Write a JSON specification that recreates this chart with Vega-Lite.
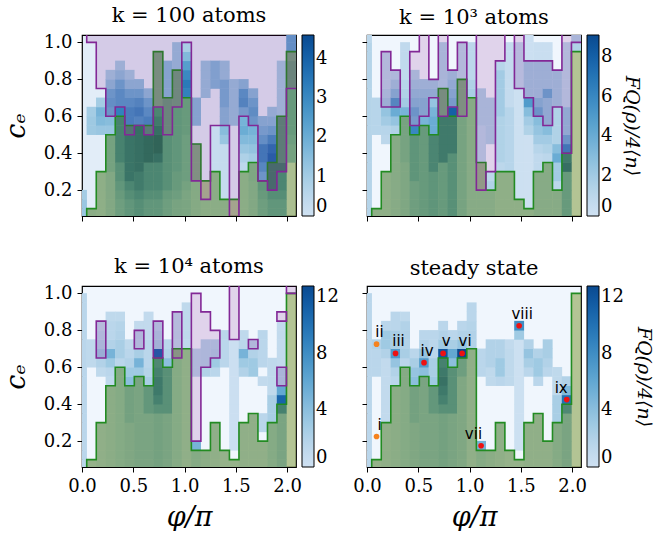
{
"$schema": "https://vega.github.io/schema/vega-lite/v6.json",
"autosize": {"type": "pad"},
"padding": {"left": 1, "top": 4, "right": 10, "bottom": 0},
"background": "white",
"config": {
 "view": {"stroke": "black", "strokeWidth": 1.2},
 "axis": {"grid": false, "domain": false, "tickColor": "black", "tickSize": 5, "tickWidth": 1, "labelFont": "DejaVu Serif", "labelFontSize": 18, "labelColor": "black", "labelPadding": 5, "labelFlush": false, "labelOverlap": false, "titleFont": "DejaVu Serif", "titleFontSize": 27, "titleFontWeight": "normal", "titleColor": "black", "titleFontStyle": "italic"},
 "axisY": {"titlePadding": 13},
 "axisX": {"titlePadding": 9},
 "legend": {"gradientLength": 181, "gradientThickness": 12, "gradientStrokeColor": "black", "gradientStrokeWidth": 1, "offset": 6, "padding": 0, "labelFont": "DejaVu Serif", "labelFontSize": 18, "labelColor": "black", "labelOffset": 7, "labelBaseline": "middle", "direction": "vertical", "titleFont": "DejaVu Serif", "titleFontSize": 19, "titleFontWeight": "normal", "titleColor": "black", "titleFontStyle": "italic", "titleOrient": "right", "titleAnchor": "middle", "titlePadding": 10},
 "title": {"font": "DejaVu Serif", "fontSize": 21, "fontWeight": "normal", "color": "black", "offset": 7}
},
"datasets": {
"hA": [
{"x":0,"y":0.075,"v":1.2},{"x":0,"y":0.125,"v":1.2},{"x":0,"y":0.175,"v":1.0},
{"x":0.093,"y":0.075,"v":0.9},{"x":0.093,"y":0.525,"v":1.1},{"x":0.093,"y":0.575,"v":1.1},{"x":0.093,"y":0.625,"v":1.0},
{"x":0.185,"y":0.075,"v":0.8},{"x":0.185,"y":0.125,"v":0.8},{"x":0.185,"y":0.175,"v":0.8},{"x":0.185,"y":0.225,"v":0.8},{"x":0.185,"y":0.275,"v":0.8},{"x":0.185,"y":0.525,"v":1.2},{"x":0.185,"y":0.575,"v":1.6},{"x":0.185,"y":0.625,"v":1.8},{"x":0.185,"y":0.675,"v":1.0},
{"x":0.278,"y":0.075,"v":1.2},{"x":0.278,"y":0.125,"v":1.2},{"x":0.278,"y":0.175,"v":1.2},{"x":0.278,"y":0.225,"v":1.2},{"x":0.278,"y":0.275,"v":1.2},{"x":0.278,"y":0.325,"v":1.6},{"x":0.278,"y":0.375,"v":1.6},{"x":0.278,"y":0.425,"v":1.6},{"x":0.278,"y":0.475,"v":1.6},{"x":0.278,"y":0.525,"v":1.2},{"x":0.278,"y":0.575,"v":1.5},{"x":0.278,"y":0.625,"v":2.0},{"x":0.278,"y":0.675,"v":2.2},{"x":0.278,"y":0.725,"v":2.0},{"x":0.278,"y":0.775,"v":1.4},{"x":0.278,"y":0.825,"v":1.0},
{"x":0.371,"y":0.075,"v":1.8},{"x":0.371,"y":0.125,"v":1.8},{"x":0.371,"y":0.175,"v":2.0},{"x":0.371,"y":0.225,"v":2.2},{"x":0.371,"y":0.275,"v":2.5},{"x":0.371,"y":0.325,"v":2.5},{"x":0.371,"y":0.375,"v":3.2},{"x":0.371,"y":0.425,"v":3.2},{"x":0.371,"y":0.475,"v":3.2},{"x":0.371,"y":0.525,"v":3.2},{"x":0.371,"y":0.575,"v":3.2},{"x":0.371,"y":0.625,"v":3.2},{"x":0.371,"y":0.675,"v":2.4},{"x":0.371,"y":0.725,"v":2.4},{"x":0.371,"y":0.775,"v":2.0},{"x":0.371,"y":0.825,"v":1.4},{"x":0.371,"y":0.875,"v":1.0},
{"x":0.464,"y":0.075,"v":2.2},{"x":0.464,"y":0.125,"v":2.2},{"x":0.464,"y":0.175,"v":2.6},{"x":0.464,"y":0.225,"v":3},{"x":0.464,"y":0.275,"v":3.8},{"x":0.464,"y":0.325,"v":3.8},{"x":0.464,"y":0.375,"v":3.8},{"x":0.464,"y":0.425,"v":3.8},{"x":0.464,"y":0.475,"v":3.8},{"x":0.464,"y":0.525,"v":3},{"x":0.464,"y":0.575,"v":2.8},{"x":0.464,"y":0.625,"v":2.8},{"x":0.464,"y":0.675,"v":2.4},{"x":0.464,"y":0.725,"v":2.0},{"x":0.464,"y":0.775,"v":1.4},{"x":0.464,"y":0.825,"v":1.0},
{"x":0.556,"y":0.075,"v":2.6},{"x":0.556,"y":0.125,"v":2.6},{"x":0.556,"y":0.175,"v":3.0},{"x":0.556,"y":0.225,"v":3.5},{"x":0.556,"y":0.275,"v":3.5},{"x":0.556,"y":0.325,"v":4},{"x":0.556,"y":0.375,"v":4},{"x":0.556,"y":0.425,"v":4},{"x":0.556,"y":0.475,"v":4},{"x":0.556,"y":0.525,"v":4},{"x":0.556,"y":0.575,"v":2.6},{"x":0.556,"y":0.625,"v":3.0},{"x":0.556,"y":0.675,"v":2.6},{"x":0.556,"y":0.725,"v":2.0},{"x":0.556,"y":0.775,"v":1.4},
{"x":0.649,"y":0.075,"v":2.2},{"x":0.649,"y":0.125,"v":2.2},{"x":0.649,"y":0.175,"v":2.6},{"x":0.649,"y":0.225,"v":3},{"x":0.649,"y":0.275,"v":3},{"x":0.649,"y":0.325,"v":3},{"x":0.649,"y":0.375,"v":4.3},{"x":0.649,"y":0.425,"v":4.3},{"x":0.649,"y":0.475,"v":4.3},{"x":0.649,"y":0.525,"v":2.6},{"x":0.649,"y":0.575,"v":2.8},{"x":0.649,"y":0.625,"v":2.4},{"x":0.649,"y":0.675,"v":2.0},{"x":0.649,"y":0.725,"v":1.4},
{"x":0.742,"y":0.075,"v":2.2},{"x":0.742,"y":0.125,"v":2.2},{"x":0.742,"y":0.175,"v":2.6},{"x":0.742,"y":0.225,"v":3},{"x":0.742,"y":0.275,"v":3},{"x":0.742,"y":0.325,"v":3},{"x":0.742,"y":0.375,"v":4},{"x":0.742,"y":0.425,"v":4.5},{"x":0.742,"y":0.475,"v":4.5},{"x":0.742,"y":0.525,"v":4},{"x":0.742,"y":0.575,"v":3.5},{"x":0.742,"y":0.625,"v":3},{"x":0.742,"y":0.675,"v":1.5},{"x":0.742,"y":0.725,"v":1.5},{"x":0.742,"y":0.775,"v":1.5},{"x":0.742,"y":0.825,"v":1.5},{"x":0.742,"y":0.875,"v":1.5},{"x":0.742,"y":0.925,"v":1.5},
{"x":0.834,"y":0.075,"v":1.8},{"x":0.834,"y":0.125,"v":1.8},{"x":0.834,"y":0.175,"v":2.0},{"x":0.834,"y":0.225,"v":2.5},{"x":0.834,"y":0.275,"v":2.5},{"x":0.834,"y":0.325,"v":2.5},{"x":0.834,"y":0.375,"v":2.5},{"x":0.834,"y":0.425,"v":2.5},{"x":0.834,"y":0.475,"v":2.5},{"x":0.834,"y":0.525,"v":2},{"x":0.834,"y":0.575,"v":2},{"x":0.834,"y":0.625,"v":2},{"x":0.834,"y":0.675,"v":2},{"x":0.834,"y":0.725,"v":1.5},{"x":0.834,"y":0.775,"v":1.5},{"x":0.834,"y":0.825,"v":1.5},{"x":0.834,"y":0.875,"v":1.5},
{"x":0.927,"y":0.075,"v":1.5},{"x":0.927,"y":0.125,"v":1.5},{"x":0.927,"y":0.175,"v":1.8},{"x":0.927,"y":0.225,"v":2.0},{"x":0.927,"y":0.275,"v":2.0},{"x":0.927,"y":0.325,"v":2.2},{"x":0.927,"y":0.375,"v":2.2},{"x":0.927,"y":0.425,"v":2.2},{"x":0.927,"y":0.475,"v":2.2},{"x":0.927,"y":0.525,"v":2.2},{"x":0.927,"y":0.575,"v":2.2},{"x":0.927,"y":0.625,"v":2.2},{"x":0.927,"y":0.675,"v":1.8},{"x":0.927,"y":0.725,"v":1.8},{"x":0.927,"y":0.775,"v":1.8},{"x":0.927,"y":0.825,"v":1.8},{"x":0.927,"y":0.875,"v":1.2},{"x":0.927,"y":0.925,"v":1.2},{"x":0.927,"y":0.975,"v":1.2},
{"x":1.02,"y":0.075,"v":1.4},{"x":1.02,"y":0.125,"v":1.4},{"x":1.02,"y":0.175,"v":1.4},{"x":1.02,"y":0.225,"v":1.6},{"x":1.02,"y":0.275,"v":1.8},{"x":1.02,"y":0.325,"v":1.8},{"x":1.02,"y":0.375,"v":1.8},{"x":1.02,"y":0.425,"v":1.8},{"x":1.02,"y":0.475,"v":1.8},{"x":1.02,"y":0.525,"v":2},{"x":1.02,"y":0.575,"v":2},{"x":1.02,"y":0.625,"v":2},{"x":1.02,"y":0.675,"v":2},{"x":1.02,"y":0.725,"v":3.2},{"x":1.02,"y":0.775,"v":3.4},{"x":1.02,"y":0.825,"v":3},{"x":1.02,"y":0.875,"v":2.4},{"x":1.02,"y":0.925,"v":1.6},{"x":1.02,"y":0.975,"v":0.9},
{"x":1.112,"y":0.075,"v":1.1},{"x":1.112,"y":0.125,"v":1.1},{"x":1.112,"y":0.175,"v":1.1},{"x":1.112,"y":0.225,"v":1.1},{"x":1.112,"y":0.275,"v":1.2},{"x":1.112,"y":0.325,"v":1.2},{"x":1.112,"y":0.375,"v":1.2},{"x":1.112,"y":0.425,"v":1.2},{"x":1.112,"y":0.575,"v":1.5},{"x":1.112,"y":0.625,"v":1.5},{"x":1.112,"y":0.675,"v":1.5},
{"x":1.205,"y":0.075,"v":0.9},{"x":1.205,"y":0.125,"v":0.9},{"x":1.205,"y":0.725,"v":1.2},{"x":1.205,"y":0.775,"v":1.2},{"x":1.205,"y":0.825,"v":1.2},{"x":1.205,"y":0.875,"v":1.2},
{"x":1.298,"y":0.075,"v":0.9},{"x":1.298,"y":0.125,"v":0.9},{"x":1.298,"y":0.175,"v":0.9},{"x":1.298,"y":0.225,"v":0.9},{"x":1.298,"y":0.275,"v":0.9},{"x":1.298,"y":0.325,"v":0.25},{"x":1.298,"y":0.375,"v":0.25},{"x":1.298,"y":0.425,"v":0.25},{"x":1.298,"y":0.475,"v":0.25},{"x":1.298,"y":0.525,"v":0.25},{"x":1.298,"y":0.775,"v":1.6},{"x":1.298,"y":0.825,"v":1.6},{"x":1.298,"y":0.875,"v":1.6},
{"x":1.391,"y":0.075,"v":0.9},{"x":1.391,"y":0.125,"v":0.9},{"x":1.391,"y":0.175,"v":0.3},{"x":1.391,"y":0.225,"v":0.3},{"x":1.391,"y":0.275,"v":0.3},{"x":1.391,"y":0.325,"v":0.3},{"x":1.391,"y":0.375,"v":0.3},{"x":1.391,"y":0.425,"v":0.3},{"x":1.391,"y":0.475,"v":1.2},{"x":1.391,"y":0.525,"v":1.5},{"x":1.391,"y":0.575,"v":1.5},{"x":1.391,"y":0.625,"v":1.5},{"x":1.391,"y":0.675,"v":1.8},{"x":1.391,"y":0.725,"v":1.8},{"x":1.391,"y":0.775,"v":1.8},{"x":1.391,"y":0.825,"v":1.2},{"x":1.391,"y":0.875,"v":1.2},
{"x":1.483,"y":0.575,"v":1.2},{"x":1.483,"y":0.625,"v":1.2},{"x":1.483,"y":0.675,"v":1.2},{"x":1.483,"y":0.725,"v":1.2},{"x":1.483,"y":0.775,"v":1.2},
{"x":1.576,"y":0.075,"v":0.9},{"x":1.576,"y":0.125,"v":0.9},{"x":1.576,"y":0.175,"v":0.9},{"x":1.576,"y":0.225,"v":0.9},{"x":1.576,"y":0.275,"v":0.9},{"x":1.576,"y":0.325,"v":0.5},{"x":1.576,"y":0.375,"v":0.8},{"x":1.576,"y":0.425,"v":1.2},{"x":1.576,"y":0.475,"v":1.6},{"x":1.576,"y":0.525,"v":2},{"x":1.576,"y":0.575,"v":1.8},{"x":1.576,"y":0.625,"v":1.8},{"x":1.576,"y":0.675,"v":2.6},{"x":1.576,"y":0.725,"v":2.4},{"x":1.576,"y":0.775,"v":1.5},
{"x":1.669,"y":0.075,"v":1.2},{"x":1.669,"y":0.125,"v":1.2},{"x":1.669,"y":0.175,"v":1.2},{"x":1.669,"y":0.225,"v":1.2},{"x":1.669,"y":0.275,"v":1.3},{"x":1.669,"y":0.325,"v":1.3},{"x":1.669,"y":0.375,"v":1},{"x":1.669,"y":0.425,"v":1.3},{"x":1.669,"y":0.475,"v":1.6},{"x":1.669,"y":0.525,"v":1.8},{"x":1.669,"y":0.575,"v":2},{"x":1.669,"y":0.625,"v":2.3},{"x":1.669,"y":0.675,"v":2},{"x":1.669,"y":0.725,"v":1.5},
{"x":1.761,"y":0.075,"v":1.8},{"x":1.761,"y":0.125,"v":1.8},{"x":1.761,"y":0.175,"v":2.0},{"x":1.761,"y":0.225,"v":2.2},{"x":1.761,"y":0.275,"v":2},{"x":1.761,"y":0.325,"v":2.5},{"x":1.761,"y":0.375,"v":3},{"x":1.761,"y":0.425,"v":3},{"x":1.761,"y":0.475,"v":2.2},{"x":1.761,"y":0.525,"v":1.8},{"x":1.761,"y":0.575,"v":1.5},
{"x":1.854,"y":0.075,"v":2.2},{"x":1.854,"y":0.125,"v":2.2},{"x":1.854,"y":0.175,"v":2.6},{"x":1.854,"y":0.225,"v":3.5},{"x":1.854,"y":0.275,"v":3.5},{"x":1.854,"y":0.325,"v":3.5},{"x":1.854,"y":0.375,"v":3.8},{"x":1.854,"y":0.425,"v":3.5},{"x":1.854,"y":0.475,"v":2.8},{"x":1.854,"y":0.525,"v":2},{"x":1.854,"y":0.575,"v":1.5},{"x":1.854,"y":0.625,"v":1.2},
{"x":1.947,"y":0.075,"v":2.2},{"x":1.947,"y":0.125,"v":2.2},{"x":1.947,"y":0.175,"v":2.6},{"x":1.947,"y":0.225,"v":3},{"x":1.947,"y":0.275,"v":3},{"x":1.947,"y":0.325,"v":3.5},{"x":1.947,"y":0.375,"v":2.5},{"x":1.947,"y":0.425,"v":2.5},{"x":1.947,"y":0.475,"v":2.5},{"x":1.947,"y":0.525,"v":2.5},{"x":1.947,"y":0.575,"v":2.5},{"x":1.947,"y":0.625,"v":1},{"x":1.947,"y":0.675,"v":1},{"x":1.947,"y":0.725,"v":1},{"x":1.947,"y":0.775,"v":1},{"x":1.947,"y":0.825,"v":1},{"x":1.947,"y":0.875,"v":1},
{"x":2.039,"y":0.375,"v":1.6},{"x":2.039,"y":0.425,"v":1.6},{"x":2.039,"y":0.475,"v":1.8},{"x":2.039,"y":0.525,"v":2},{"x":2.039,"y":0.575,"v":2},{"x":2.039,"y":0.625,"v":2},{"x":2.039,"y":0.675,"v":2},{"x":2.039,"y":0.725,"v":2},{"x":2.039,"y":0.775,"v":2},{"x":2.039,"y":0.825,"v":2},{"x":2.039,"y":0.875,"v":2},{"x":2.039,"y":0.925,"v":1.6},{"x":2.039,"y":0.975,"v":2.2},{"x":2.039,"y":1.025,"v":2.2}
],
"hB": [
{"x":0,"y":0.075,"v":1.3},{"x":0,"y":0.125,"v":1.3},{"x":0,"y":0.175,"v":1.3},{"x":0,"y":0.225,"v":1.3},{"x":0,"y":0.275,"v":1.3},{"x":0,"y":0.325,"v":1.3},{"x":0,"y":0.375,"v":1.3},{"x":0,"y":0.425,"v":1.3},{"x":0,"y":0.475,"v":1.3},{"x":0,"y":0.525,"v":1.3},{"x":0,"y":0.575,"v":1.3},{"x":0,"y":0.625,"v":1.3},{"x":0,"y":0.675,"v":1.3},{"x":0,"y":0.725,"v":1.3},{"x":0,"y":0.775,"v":1.3},{"x":0,"y":0.825,"v":1.3},{"x":0,"y":0.875,"v":1.3},{"x":0,"y":0.925,"v":1.3},{"x":0,"y":0.975,"v":1.3},{"x":0,"y":1.025,"v":1.0},
{"x":0.093,"y":0.075,"v":1.5},{"x":0.093,"y":0.525,"v":1.2},{"x":0.093,"y":0.575,"v":1.2},{"x":0.093,"y":0.625,"v":1.2},{"x":0.093,"y":0.675,"v":1.2},
{"x":0.185,"y":0.075,"v":1.5},{"x":0.185,"y":0.125,"v":1.5},{"x":0.185,"y":0.175,"v":1.5},{"x":0.185,"y":0.225,"v":1.5},{"x":0.185,"y":0.275,"v":1.5},{"x":0.185,"y":0.475,"v":1},{"x":0.185,"y":0.525,"v":1.2},{"x":0.185,"y":0.575,"v":2},{"x":0.185,"y":0.625,"v":2.5},{"x":0.185,"y":0.675,"v":2},{"x":0.185,"y":0.725,"v":1.5},{"x":0.185,"y":0.775,"v":1},{"x":0.185,"y":0.825,"v":1},{"x":0.185,"y":0.875,"v":1},{"x":0.185,"y":0.925,"v":1},
{"x":0.278,"y":0.075,"v":2},{"x":0.278,"y":0.125,"v":2},{"x":0.278,"y":0.175,"v":2},{"x":0.278,"y":0.225,"v":2},{"x":0.278,"y":0.275,"v":2},{"x":0.278,"y":0.325,"v":2},{"x":0.278,"y":0.375,"v":2},{"x":0.278,"y":0.425,"v":2},{"x":0.278,"y":0.475,"v":2},{"x":0.278,"y":0.525,"v":1.5},{"x":0.278,"y":0.575,"v":2.5},{"x":0.278,"y":0.625,"v":4},{"x":0.278,"y":0.675,"v":5},{"x":0.278,"y":0.725,"v":3},{"x":0.278,"y":0.775,"v":2},{"x":0.278,"y":0.825,"v":1.2},
{"x":0.371,"y":0.075,"v":2.5},{"x":0.371,"y":0.125,"v":2.5},{"x":0.371,"y":0.175,"v":2.5},{"x":0.371,"y":0.225,"v":2.5},{"x":0.371,"y":0.275,"v":2.5},{"x":0.371,"y":0.325,"v":2.5},{"x":0.371,"y":0.375,"v":3},{"x":0.371,"y":0.425,"v":3},{"x":0.371,"y":0.475,"v":3},{"x":0.371,"y":0.525,"v":3},{"x":0.371,"y":0.575,"v":3},{"x":0.371,"y":0.625,"v":3.5},{"x":0.371,"y":0.675,"v":2},{"x":0.371,"y":0.725,"v":1.5},{"x":0.371,"y":0.775,"v":1.2},{"x":0.371,"y":0.825,"v":0.8},{"x":0.371,"y":0.875,"v":0.8},{"x":0.371,"y":0.925,"v":0.8},{"x":0.371,"y":0.975,"v":0.8},
{"x":0.464,"y":0.075,"v":3.5},{"x":0.464,"y":0.125,"v":3.5},{"x":0.464,"y":0.175,"v":3.5},{"x":0.464,"y":0.225,"v":3.5},{"x":0.464,"y":0.275,"v":4.5},{"x":0.464,"y":0.325,"v":4.5},{"x":0.464,"y":0.375,"v":4.5},{"x":0.464,"y":0.425,"v":4.5},{"x":0.464,"y":0.475,"v":4.5},{"x":0.464,"y":0.525,"v":6},{"x":0.464,"y":0.575,"v":3.5},{"x":0.464,"y":0.625,"v":4},{"x":0.464,"y":0.675,"v":3},{"x":0.464,"y":0.725,"v":2.5},{"x":0.464,"y":0.775,"v":2},{"x":0.464,"y":0.825,"v":1.5},
{"x":0.556,"y":0.075,"v":4},{"x":0.556,"y":0.125,"v":4},{"x":0.556,"y":0.175,"v":4},{"x":0.556,"y":0.225,"v":4},{"x":0.556,"y":0.275,"v":4},{"x":0.556,"y":0.325,"v":4},{"x":0.556,"y":0.375,"v":4},{"x":0.556,"y":0.425,"v":4},{"x":0.556,"y":0.475,"v":4},{"x":0.556,"y":0.525,"v":4},{"x":0.556,"y":0.575,"v":3.5},{"x":0.556,"y":0.625,"v":3},{"x":0.556,"y":0.675,"v":3},{"x":0.556,"y":0.725,"v":2.5},{"x":0.556,"y":0.775,"v":2},
{"x":0.649,"y":0.075,"v":4.5},{"x":0.649,"y":0.125,"v":4.5},{"x":0.649,"y":0.175,"v":4.5},{"x":0.649,"y":0.225,"v":4.5},{"x":0.649,"y":0.275,"v":4.5},{"x":0.649,"y":0.325,"v":6},{"x":0.649,"y":0.375,"v":6},{"x":0.649,"y":0.425,"v":6},{"x":0.649,"y":0.475,"v":6},{"x":0.649,"y":0.525,"v":4},{"x":0.649,"y":0.575,"v":4},{"x":0.649,"y":0.625,"v":3.5},{"x":0.649,"y":0.675,"v":2.5},{"x":0.649,"y":0.725,"v":2.5},{"x":0.649,"y":0.775,"v":2},
{"x":0.742,"y":0.075,"v":4},{"x":0.742,"y":0.125,"v":4},{"x":0.742,"y":0.175,"v":4},{"x":0.742,"y":0.225,"v":4},{"x":0.742,"y":0.275,"v":4},{"x":0.742,"y":0.325,"v":4},{"x":0.742,"y":0.375,"v":7},{"x":0.742,"y":0.425,"v":7},{"x":0.742,"y":0.475,"v":7},{"x":0.742,"y":0.525,"v":7},{"x":0.742,"y":0.575,"v":7},{"x":0.742,"y":0.625,"v":3},{"x":0.742,"y":0.675,"v":3},{"x":0.742,"y":0.725,"v":3},{"x":0.742,"y":0.775,"v":1.5},{"x":0.742,"y":0.825,"v":1.5},{"x":0.742,"y":0.875,"v":1.5},{"x":0.742,"y":0.925,"v":1.5},{"x":0.742,"y":0.975,"v":1.5},
{"x":0.834,"y":0.075,"v":5},{"x":0.834,"y":0.125,"v":5},{"x":0.834,"y":0.175,"v":5},{"x":0.834,"y":0.225,"v":5},{"x":0.834,"y":0.275,"v":5},{"x":0.834,"y":0.325,"v":5},{"x":0.834,"y":0.375,"v":5},{"x":0.834,"y":0.425,"v":7},{"x":0.834,"y":0.475,"v":7},{"x":0.834,"y":0.525,"v":7},{"x":0.834,"y":0.575,"v":7},{"x":0.834,"y":0.625,"v":8},{"x":0.834,"y":0.675,"v":3.5},{"x":0.834,"y":0.725,"v":3},{"x":0.834,"y":0.775,"v":2.5},{"x":0.834,"y":0.825,"v":2},
{"x":0.927,"y":0.075,"v":3},{"x":0.927,"y":0.125,"v":3},{"x":0.927,"y":0.175,"v":3},{"x":0.927,"y":0.225,"v":3},{"x":0.927,"y":0.275,"v":3},{"x":0.927,"y":0.325,"v":3},{"x":0.927,"y":0.375,"v":3},{"x":0.927,"y":0.425,"v":3},{"x":0.927,"y":0.475,"v":3},{"x":0.927,"y":0.525,"v":3},{"x":0.927,"y":0.575,"v":3},{"x":0.927,"y":0.625,"v":2.5},{"x":0.927,"y":0.675,"v":2.5},{"x":0.927,"y":0.725,"v":2.5},{"x":0.927,"y":0.775,"v":2.5},{"x":0.927,"y":0.825,"v":1},{"x":0.927,"y":0.875,"v":1},{"x":0.927,"y":0.925,"v":1},{"x":0.927,"y":0.975,"v":1},
{"x":1.02,"y":0.075,"v":2},{"x":1.02,"y":0.125,"v":2},{"x":1.02,"y":0.175,"v":2},{"x":1.02,"y":0.225,"v":2},{"x":1.02,"y":0.275,"v":2},{"x":1.02,"y":0.325,"v":2},{"x":1.02,"y":0.375,"v":2},{"x":1.02,"y":0.425,"v":2},{"x":1.02,"y":0.475,"v":2},{"x":1.02,"y":0.525,"v":2},{"x":1.02,"y":0.575,"v":2},{"x":1.02,"y":0.625,"v":2},{"x":1.02,"y":0.675,"v":2},{"x":1.02,"y":0.725,"v":1.8},{"x":1.02,"y":0.775,"v":1.5},{"x":1.02,"y":0.825,"v":1},{"x":1.02,"y":0.875,"v":1},{"x":1.02,"y":0.925,"v":1},{"x":1.02,"y":0.975,"v":1},
{"x":1.112,"y":0.075,"v":2},{"x":1.112,"y":0.125,"v":2},{"x":1.112,"y":0.175,"v":2},{"x":1.112,"y":0.225,"v":1},{"x":1.112,"y":0.275,"v":1},{"x":1.112,"y":0.325,"v":1},{"x":1.112,"y":0.375,"v":1},{"x":1.112,"y":0.425,"v":1},{"x":1.112,"y":0.475,"v":1},{"x":1.112,"y":0.525,"v":1},{"x":1.112,"y":0.575,"v":1.5},{"x":1.112,"y":0.625,"v":1.5},{"x":1.112,"y":0.675,"v":1.5},{"x":1.112,"y":0.725,"v":1.5},
{"x":1.205,"y":0.075,"v":2},{"x":1.205,"y":0.125,"v":2},{"x":1.205,"y":0.175,"v":2},{"x":1.205,"y":0.225,"v":1.5},{"x":1.205,"y":0.275,"v":1},{"x":1.205,"y":0.475,"v":1.5},{"x":1.205,"y":0.525,"v":1.5},{"x":1.205,"y":0.575,"v":1.5},{"x":1.205,"y":0.625,"v":1.5},{"x":1.205,"y":0.675,"v":1.5},
{"x":1.298,"y":0.075,"v":1.5},{"x":1.298,"y":0.125,"v":1.5},{"x":1.298,"y":0.175,"v":1.5},{"x":1.298,"y":0.225,"v":1.5},{"x":1.298,"y":0.275,"v":1.5},{"x":1.298,"y":0.325,"v":1},{"x":1.298,"y":0.375,"v":1.5},{"x":1.298,"y":0.425,"v":1.5},{"x":1.298,"y":0.475,"v":1.5},{"x":1.298,"y":0.525,"v":1.5},{"x":1.298,"y":0.575,"v":1.5},{"x":1.298,"y":0.625,"v":2},{"x":1.298,"y":0.675,"v":2},{"x":1.298,"y":0.725,"v":2},{"x":1.298,"y":0.775,"v":2},{"x":1.298,"y":0.825,"v":2},{"x":1.298,"y":0.875,"v":1.2},
{"x":1.391,"y":0.075,"v":1.5},{"x":1.391,"y":0.125,"v":1.5},{"x":1.391,"y":0.175,"v":1.5},{"x":1.391,"y":0.225,"v":1.5},{"x":1.391,"y":0.275,"v":1.5},{"x":1.391,"y":0.325,"v":1.2},{"x":1.391,"y":0.375,"v":1.2},{"x":1.391,"y":0.425,"v":1.2},{"x":1.391,"y":0.475,"v":1.2},{"x":1.391,"y":0.525,"v":1.2},{"x":1.391,"y":0.575,"v":1.2},{"x":1.391,"y":0.625,"v":1.2},{"x":1.391,"y":0.675,"v":0.6},{"x":1.391,"y":0.725,"v":0.6},{"x":1.391,"y":0.775,"v":0.6},{"x":1.391,"y":0.825,"v":0.6},{"x":1.391,"y":0.875,"v":0.6},{"x":1.391,"y":0.925,"v":0.6},{"x":1.391,"y":0.975,"v":0.6},
{"x":1.483,"y":0.075,"v":1.5},{"x":1.483,"y":0.125,"v":1.5},{"x":1.483,"y":0.175,"v":0.15},{"x":1.483,"y":0.225,"v":0.15},{"x":1.483,"y":0.275,"v":0.15},{"x":1.483,"y":0.325,"v":0.15},{"x":1.483,"y":0.375,"v":0.15},{"x":1.483,"y":0.425,"v":0.15},{"x":1.483,"y":0.475,"v":0.15},{"x":1.483,"y":0.525,"v":0.15},{"x":1.483,"y":0.575,"v":0.15},{"x":1.483,"y":0.625,"v":0.15},{"x":1.483,"y":0.675,"v":0.15},{"x":1.483,"y":0.725,"v":0.15},{"x":1.483,"y":0.775,"v":0.8},{"x":1.483,"y":0.825,"v":0.8},{"x":1.483,"y":0.875,"v":0.8},{"x":1.483,"y":0.925,"v":0.8},{"x":1.483,"y":0.975,"v":0.8},
{"x":1.576,"y":0.075,"v":1.5},{"x":1.576,"y":0.125,"v":0.1},{"x":1.576,"y":0.175,"v":0.1},{"x":1.576,"y":0.225,"v":0.1},{"x":1.576,"y":0.275,"v":0.1},{"x":1.576,"y":0.325,"v":0.1},{"x":1.576,"y":0.375,"v":0.1},{"x":1.576,"y":0.425,"v":0.1},{"x":1.576,"y":0.475,"v":0.1},{"x":1.576,"y":0.525,"v":1.5},{"x":1.576,"y":0.575,"v":2},{"x":1.576,"y":0.625,"v":3},{"x":1.576,"y":0.675,"v":5},{"x":1.576,"y":0.725,"v":2},{"x":1.576,"y":0.775,"v":2},{"x":1.576,"y":0.825,"v":2},{"x":1.576,"y":0.875,"v":2},{"x":1.576,"y":0.925,"v":0.2},{"x":1.576,"y":0.975,"v":0.2},{"x":1.576,"y":1.025,"v":0.2},
{"x":1.669,"y":0.075,"v":2},{"x":1.669,"y":0.125,"v":2},{"x":1.669,"y":0.175,"v":2},{"x":1.669,"y":0.225,"v":2},{"x":1.669,"y":0.275,"v":2},{"x":1.669,"y":0.325,"v":0.8},{"x":1.669,"y":0.375,"v":0.8},{"x":1.669,"y":0.425,"v":1.2},{"x":1.669,"y":0.475,"v":2},{"x":1.669,"y":0.525,"v":2.5},{"x":1.669,"y":0.575,"v":3},{"x":1.669,"y":0.625,"v":4},{"x":1.669,"y":0.675,"v":3},{"x":1.669,"y":0.725,"v":2},{"x":1.669,"y":0.775,"v":2},{"x":1.669,"y":0.825,"v":2},{"x":1.669,"y":0.875,"v":2},{"x":1.669,"y":0.925,"v":0.3},{"x":1.669,"y":0.975,"v":0.3},
{"x":1.761,"y":0.075,"v":2},{"x":1.761,"y":0.125,"v":2},{"x":1.761,"y":0.175,"v":2},{"x":1.761,"y":0.225,"v":2},{"x":1.761,"y":0.275,"v":2},{"x":1.761,"y":0.325,"v":2},{"x":1.761,"y":0.375,"v":1},{"x":1.761,"y":0.425,"v":1.5},{"x":1.761,"y":0.475,"v":2},{"x":1.761,"y":0.525,"v":3},{"x":1.761,"y":0.575,"v":2.5},{"x":1.761,"y":0.625,"v":2.5},{"x":1.761,"y":0.675,"v":2.5},{"x":1.761,"y":0.725,"v":4},{"x":1.761,"y":0.775,"v":2},{"x":1.761,"y":0.825,"v":2},{"x":1.761,"y":0.875,"v":2},{"x":1.761,"y":0.925,"v":0.3},{"x":1.761,"y":0.975,"v":0.3},
{"x":1.854,"y":0.075,"v":2},{"x":1.854,"y":0.125,"v":2},{"x":1.854,"y":0.175,"v":2},{"x":1.854,"y":0.225,"v":1},{"x":1.854,"y":0.275,"v":2},{"x":1.854,"y":0.325,"v":2},{"x":1.854,"y":0.375,"v":4},{"x":1.854,"y":0.425,"v":3},{"x":1.854,"y":0.475,"v":1.5},{"x":1.854,"y":0.525,"v":1.5},{"x":1.854,"y":0.575,"v":1.5},{"x":1.854,"y":0.625,"v":1.5},{"x":1.854,"y":0.675,"v":2},{"x":1.854,"y":0.725,"v":2},{"x":1.854,"y":0.775,"v":2},{"x":1.854,"y":0.825,"v":2},
{"x":1.947,"y":0.075,"v":4},{"x":1.947,"y":0.125,"v":4},{"x":1.947,"y":0.175,"v":4},{"x":1.947,"y":0.225,"v":4},{"x":1.947,"y":0.275,"v":4},{"x":1.947,"y":0.325,"v":8},{"x":1.947,"y":0.375,"v":7},{"x":1.947,"y":0.425,"v":6},{"x":1.947,"y":0.475,"v":4},{"x":1.947,"y":0.525,"v":2.5},{"x":1.947,"y":0.575,"v":2.5},{"x":1.947,"y":0.625,"v":2.5},{"x":1.947,"y":0.675,"v":1},{"x":1.947,"y":0.725,"v":1},{"x":1.947,"y":0.775,"v":1},{"x":1.947,"y":0.825,"v":1},{"x":1.947,"y":0.875,"v":1},{"x":1.947,"y":0.925,"v":1},{"x":1.947,"y":0.975,"v":1},
{"x":2.039,"y":0.975,"v":1.5},{"x":2.039,"y":1.025,"v":1.5}
],
"hC": [
{"x":0,"y":0.075,"v":1.5},{"x":0,"y":0.125,"v":1.5},{"x":0,"y":0.175,"v":1.5},{"x":0,"y":0.225,"v":1.5},{"x":0,"y":0.275,"v":1.5},{"x":0,"y":0.325,"v":1.5},{"x":0,"y":0.375,"v":1.5},{"x":0,"y":0.425,"v":1.5},{"x":0,"y":0.475,"v":1.5},{"x":0,"y":0.525,"v":1.5},{"x":0,"y":0.575,"v":1.5},{"x":0,"y":0.625,"v":1.5},{"x":0,"y":0.675,"v":1.5},{"x":0,"y":0.725,"v":1.5},{"x":0,"y":0.775,"v":1.5},{"x":0,"y":0.825,"v":1.5},{"x":0,"y":0.875,"v":1.5},{"x":0,"y":0.925,"v":1.5},{"x":0,"y":0.975,"v":1.5},
{"x":0.093,"y":0.075,"v":1.5},{"x":0.093,"y":0.625,"v":1.2},{"x":0.093,"y":0.675,"v":1.2},{"x":0.093,"y":0.725,"v":1.2},
{"x":0.185,"y":0.075,"v":2},{"x":0.185,"y":0.125,"v":2},{"x":0.185,"y":0.175,"v":2},{"x":0.185,"y":0.225,"v":2},{"x":0.185,"y":0.275,"v":2},{"x":0.185,"y":0.575,"v":1.2},{"x":0.185,"y":0.625,"v":2},{"x":0.185,"y":0.675,"v":3},{"x":0.185,"y":0.725,"v":2},{"x":0.185,"y":0.775,"v":1.5},{"x":0.185,"y":0.825,"v":1.2},
{"x":0.278,"y":0.075,"v":2.5},{"x":0.278,"y":0.125,"v":2.5},{"x":0.278,"y":0.175,"v":2.5},{"x":0.278,"y":0.225,"v":2.5},{"x":0.278,"y":0.275,"v":2.5},{"x":0.278,"y":0.325,"v":2.5},{"x":0.278,"y":0.375,"v":2.5},{"x":0.278,"y":0.425,"v":2.5},{"x":0.278,"y":0.475,"v":2.5},{"x":0.278,"y":0.525,"v":1.2},{"x":0.278,"y":0.575,"v":1.5},{"x":0.278,"y":0.625,"v":3},{"x":0.278,"y":0.675,"v":5},{"x":0.278,"y":0.725,"v":2},{"x":0.278,"y":0.775,"v":1.5},{"x":0.278,"y":0.825,"v":1.5},{"x":0.278,"y":0.875,"v":1.2},
{"x":0.371,"y":0.075,"v":3},{"x":0.371,"y":0.125,"v":3},{"x":0.371,"y":0.175,"v":3},{"x":0.371,"y":0.225,"v":3},{"x":0.371,"y":0.275,"v":3},{"x":0.371,"y":0.325,"v":3},{"x":0.371,"y":0.375,"v":3},{"x":0.371,"y":0.425,"v":3},{"x":0.371,"y":0.475,"v":3},{"x":0.371,"y":0.525,"v":3},{"x":0.371,"y":0.575,"v":3},{"x":0.371,"y":0.625,"v":1.5},{"x":0.371,"y":0.675,"v":2.5},{"x":0.371,"y":0.725,"v":2.5},{"x":0.371,"y":0.775,"v":2},{"x":0.371,"y":0.825,"v":1.8},{"x":0.371,"y":0.875,"v":1.2},
{"x":0.464,"y":0.075,"v":3.5},{"x":0.464,"y":0.125,"v":3.5},{"x":0.464,"y":0.175,"v":3.5},{"x":0.464,"y":0.225,"v":3.5},{"x":0.464,"y":0.275,"v":3.5},{"x":0.464,"y":0.325,"v":4.5},{"x":0.464,"y":0.375,"v":4.5},{"x":0.464,"y":0.425,"v":4.5},{"x":0.464,"y":0.475,"v":4.5},{"x":0.464,"y":0.525,"v":4},{"x":0.464,"y":0.575,"v":3},{"x":0.464,"y":0.625,"v":2},{"x":0.464,"y":0.675,"v":1.5},{"x":0.464,"y":0.725,"v":1.2},
{"x":0.556,"y":0.075,"v":4},{"x":0.556,"y":0.125,"v":4},{"x":0.556,"y":0.175,"v":4},{"x":0.556,"y":0.225,"v":4},{"x":0.556,"y":0.275,"v":4},{"x":0.556,"y":0.325,"v":4},{"x":0.556,"y":0.375,"v":4},{"x":0.556,"y":0.425,"v":4},{"x":0.556,"y":0.475,"v":4},{"x":0.556,"y":0.525,"v":4},{"x":0.556,"y":0.575,"v":3},{"x":0.556,"y":0.625,"v":5},{"x":0.556,"y":0.675,"v":2.5},{"x":0.556,"y":0.725,"v":1.5},{"x":0.556,"y":0.775,"v":1.5},{"x":0.556,"y":0.825,"v":1},
{"x":0.649,"y":0.075,"v":4},{"x":0.649,"y":0.125,"v":4},{"x":0.649,"y":0.175,"v":4},{"x":0.649,"y":0.225,"v":4},{"x":0.649,"y":0.275,"v":4},{"x":0.649,"y":0.325,"v":4},{"x":0.649,"y":0.375,"v":6},{"x":0.649,"y":0.425,"v":6},{"x":0.649,"y":0.475,"v":6},{"x":0.649,"y":0.525,"v":2.5},{"x":0.649,"y":0.575,"v":1.8},{"x":0.649,"y":0.625,"v":1.5},{"x":0.649,"y":0.675,"v":1.5},{"x":0.649,"y":0.725,"v":1.5},{"x":0.649,"y":0.775,"v":1},{"x":0.649,"y":0.825,"v":1},{"x":0.649,"y":0.875,"v":1},
{"x":0.742,"y":0.075,"v":4.5},{"x":0.742,"y":0.125,"v":4.5},{"x":0.742,"y":0.175,"v":4.5},{"x":0.742,"y":0.225,"v":4.5},{"x":0.742,"y":0.275,"v":4.5},{"x":0.742,"y":0.325,"v":4.5},{"x":0.742,"y":0.375,"v":7},{"x":0.742,"y":0.425,"v":9},{"x":0.742,"y":0.475,"v":10},{"x":0.742,"y":0.525,"v":10},{"x":0.742,"y":0.575,"v":9},{"x":0.742,"y":0.625,"v":8},{"x":0.742,"y":0.675,"v":11},{"x":0.742,"y":0.725,"v":2.5},{"x":0.742,"y":0.775,"v":2},{"x":0.742,"y":0.825,"v":1.5},
{"x":0.834,"y":0.075,"v":4},{"x":0.834,"y":0.125,"v":4},{"x":0.834,"y":0.175,"v":4},{"x":0.834,"y":0.225,"v":4},{"x":0.834,"y":0.275,"v":4},{"x":0.834,"y":0.325,"v":4},{"x":0.834,"y":0.375,"v":7},{"x":0.834,"y":0.425,"v":7},{"x":0.834,"y":0.475,"v":7},{"x":0.834,"y":0.525,"v":7},{"x":0.834,"y":0.575,"v":7},{"x":0.834,"y":0.625,"v":4},{"x":0.834,"y":0.675,"v":2},{"x":0.834,"y":0.725,"v":1.5},
{"x":0.927,"y":0.075,"v":3},{"x":0.927,"y":0.125,"v":3},{"x":0.927,"y":0.175,"v":3},{"x":0.927,"y":0.225,"v":3},{"x":0.927,"y":0.275,"v":3},{"x":0.927,"y":0.325,"v":3},{"x":0.927,"y":0.375,"v":3},{"x":0.927,"y":0.425,"v":3},{"x":0.927,"y":0.475,"v":3},{"x":0.927,"y":0.525,"v":3},{"x":0.927,"y":0.575,"v":3},{"x":0.927,"y":0.625,"v":3},{"x":0.927,"y":0.675,"v":2.5},{"x":0.927,"y":0.725,"v":1.2},{"x":0.927,"y":0.775,"v":1.2},{"x":0.927,"y":0.825,"v":1.2},{"x":0.927,"y":0.875,"v":1.2},
{"x":1.02,"y":0.075,"v":2},{"x":1.02,"y":0.125,"v":2},{"x":1.02,"y":0.175,"v":2},{"x":1.02,"y":0.225,"v":2},{"x":1.02,"y":0.275,"v":2},{"x":1.02,"y":0.325,"v":2},{"x":1.02,"y":0.375,"v":2},{"x":1.02,"y":0.425,"v":2},{"x":1.02,"y":0.475,"v":2},{"x":1.02,"y":0.525,"v":2},{"x":1.02,"y":0.575,"v":2},{"x":1.02,"y":0.625,"v":2},{"x":1.02,"y":0.675,"v":2},{"x":1.02,"y":0.725,"v":1.2},{"x":1.02,"y":0.775,"v":1.2},{"x":1.02,"y":0.825,"v":1.2},{"x":1.02,"y":0.875,"v":1.2},{"x":1.02,"y":0.925,"v":1.2},
{"x":1.112,"y":0.075,"v":3},{"x":1.112,"y":0.125,"v":3},{"x":1.112,"y":0.175,"v":5},{"x":1.112,"y":0.575,"v":1.5},{"x":1.112,"y":0.625,"v":1.5},{"x":1.112,"y":0.675,"v":1.5},
{"x":1.205,"y":0.075,"v":2.5},{"x":1.205,"y":0.125,"v":2.5},{"x":1.205,"y":0.575,"v":2},{"x":1.205,"y":0.625,"v":1.8},{"x":1.205,"y":0.675,"v":1.8},{"x":1.205,"y":0.725,"v":1.8},
{"x":1.298,"y":0.075,"v":2},{"x":1.298,"y":0.125,"v":2},{"x":1.298,"y":0.175,"v":2},{"x":1.298,"y":0.225,"v":2},{"x":1.298,"y":0.275,"v":2},{"x":1.298,"y":0.575,"v":1.5},{"x":1.298,"y":0.625,"v":3},{"x":1.298,"y":0.675,"v":2},{"x":1.298,"y":0.725,"v":1.8},
{"x":1.391,"y":0.075,"v":1.5},{"x":1.391,"y":0.125,"v":1.5},{"x":1.391,"y":0.625,"v":1.5},{"x":1.391,"y":0.675,"v":1.5},{"x":1.391,"y":0.725,"v":1.5},{"x":1.391,"y":0.775,"v":1.5},
{"x":1.483,"y":0.075,"v":1.5},{"x":1.483,"y":0.175,"v":0.3},{"x":1.483,"y":0.225,"v":0.3},{"x":1.483,"y":0.275,"v":0.3},{"x":1.483,"y":0.325,"v":0.3},{"x":1.483,"y":0.375,"v":0.3},{"x":1.483,"y":0.425,"v":0.3},{"x":1.483,"y":0.475,"v":0.3},{"x":1.483,"y":0.525,"v":0.3},{"x":1.483,"y":0.575,"v":0.3},{"x":1.483,"y":0.625,"v":0.3},{"x":1.483,"y":0.675,"v":0.3},{"x":1.483,"y":0.725,"v":0.3},
{"x":1.576,"y":0.075,"v":2},{"x":1.576,"y":0.125,"v":2},{"x":1.576,"y":0.175,"v":2},{"x":1.576,"y":0.225,"v":2},{"x":1.576,"y":0.275,"v":2},{"x":1.576,"y":0.575,"v":2},{"x":1.576,"y":0.625,"v":3},{"x":1.576,"y":0.675,"v":5},{"x":1.576,"y":0.725,"v":1.5},{"x":1.576,"y":0.775,"v":1.2},
{"x":1.669,"y":0.075,"v":2},{"x":1.669,"y":0.125,"v":2},{"x":1.669,"y":0.175,"v":2},{"x":1.669,"y":0.225,"v":2},{"x":1.669,"y":0.275,"v":2},{"x":1.669,"y":0.325,"v":2},{"x":1.669,"y":0.575,"v":3},{"x":1.669,"y":0.625,"v":3},{"x":1.669,"y":0.675,"v":2},{"x":1.669,"y":0.725,"v":1.5},
{"x":1.761,"y":0.075,"v":2},{"x":1.761,"y":0.125,"v":2},{"x":1.761,"y":0.175,"v":2},{"x":1.761,"y":0.275,"v":1.5},{"x":1.761,"y":0.325,"v":1.5},{"x":1.761,"y":0.525,"v":1},{"x":1.761,"y":0.625,"v":1.5},{"x":1.761,"y":0.675,"v":1.5},{"x":1.761,"y":0.725,"v":1.5},{"x":1.761,"y":0.775,"v":1.5},
{"x":1.854,"y":0.075,"v":3},{"x":1.854,"y":0.125,"v":3},{"x":1.854,"y":0.175,"v":3},{"x":1.854,"y":0.225,"v":3},{"x":1.854,"y":0.275,"v":3},{"x":1.854,"y":0.325,"v":2.5},{"x":1.854,"y":0.375,"v":2.5},{"x":1.854,"y":0.425,"v":2.5},{"x":1.854,"y":0.475,"v":1.2},{"x":1.854,"y":0.525,"v":1.2},{"x":1.854,"y":0.575,"v":1.2},{"x":1.854,"y":0.625,"v":1.2},
{"x":1.947,"y":0.075,"v":4},{"x":1.947,"y":0.125,"v":4},{"x":1.947,"y":0.175,"v":4},{"x":1.947,"y":0.225,"v":4},{"x":1.947,"y":0.275,"v":4},{"x":1.947,"y":0.325,"v":4},{"x":1.947,"y":0.375,"v":9},{"x":1.947,"y":0.425,"v":11},{"x":1.947,"y":0.475,"v":6},{"x":1.947,"y":0.525,"v":2},{"x":1.947,"y":0.575,"v":2},{"x":1.947,"y":0.625,"v":1},{"x":1.947,"y":0.675,"v":1},{"x":1.947,"y":0.725,"v":1},{"x":1.947,"y":0.775,"v":1},{"x":1.947,"y":0.825,"v":1}
],
"hD": [
{"x":0,"y":0.075,"v":1.5},{"x":0,"y":0.125,"v":1.5},{"x":0,"y":0.175,"v":1.5},{"x":0,"y":0.225,"v":1.5},{"x":0,"y":0.275,"v":1.5},{"x":0,"y":0.325,"v":1.5},{"x":0,"y":0.375,"v":1.5},{"x":0,"y":0.425,"v":1.5},{"x":0,"y":0.475,"v":1.5},{"x":0,"y":0.525,"v":1.5},{"x":0,"y":0.575,"v":1.5},{"x":0,"y":0.625,"v":1.5},{"x":0,"y":0.675,"v":1.5},{"x":0,"y":0.725,"v":1.5},{"x":0,"y":0.775,"v":1.5},{"x":0,"y":0.825,"v":1.5},{"x":0,"y":0.875,"v":1.5},{"x":0,"y":0.925,"v":1.5},{"x":0,"y":0.975,"v":1.5},
{"x":0.093,"y":0.075,"v":1.5},{"x":0.093,"y":0.575,"v":1.5},{"x":0.093,"y":0.625,"v":1.5},{"x":0.093,"y":0.675,"v":1.5},{"x":0.093,"y":0.725,"v":2},
{"x":0.185,"y":0.075,"v":2},{"x":0.185,"y":0.125,"v":2},{"x":0.185,"y":0.175,"v":2},{"x":0.185,"y":0.225,"v":2},{"x":0.185,"y":0.275,"v":2},{"x":0.185,"y":0.325,"v":1},{"x":0.185,"y":0.375,"v":1},{"x":0.185,"y":0.425,"v":1},{"x":0.185,"y":0.475,"v":1},{"x":0.185,"y":0.525,"v":1},{"x":0.185,"y":0.575,"v":1},{"x":0.185,"y":0.625,"v":1},{"x":0.185,"y":0.675,"v":2},{"x":0.185,"y":0.725,"v":3},{"x":0.185,"y":0.775,"v":3},{"x":0.185,"y":0.825,"v":1.5},
{"x":0.278,"y":0.075,"v":2.5},{"x":0.278,"y":0.125,"v":2.5},{"x":0.278,"y":0.175,"v":2.5},{"x":0.278,"y":0.225,"v":2.5},{"x":0.278,"y":0.275,"v":2.5},{"x":0.278,"y":0.325,"v":2.5},{"x":0.278,"y":0.375,"v":2.5},{"x":0.278,"y":0.425,"v":2.5},{"x":0.278,"y":0.475,"v":2.5},{"x":0.278,"y":0.525,"v":1.5},{"x":0.278,"y":0.575,"v":2},{"x":0.278,"y":0.625,"v":3.5},{"x":0.278,"y":0.675,"v":7},{"x":0.278,"y":0.725,"v":2.5},{"x":0.278,"y":0.775,"v":2.5},{"x":0.278,"y":0.825,"v":1.5},{"x":0.278,"y":0.875,"v":1.5},
{"x":0.371,"y":0.075,"v":3},{"x":0.371,"y":0.125,"v":3},{"x":0.371,"y":0.175,"v":3},{"x":0.371,"y":0.225,"v":3},{"x":0.371,"y":0.275,"v":3},{"x":0.371,"y":0.325,"v":3},{"x":0.371,"y":0.375,"v":3},{"x":0.371,"y":0.425,"v":3},{"x":0.371,"y":0.475,"v":3},{"x":0.371,"y":0.525,"v":3},{"x":0.371,"y":0.575,"v":3},{"x":0.371,"y":0.625,"v":1.5},{"x":0.371,"y":0.675,"v":2.5},{"x":0.371,"y":0.725,"v":2},{"x":0.371,"y":0.775,"v":2},{"x":0.371,"y":0.825,"v":2},{"x":0.371,"y":0.875,"v":1.2},
{"x":0.464,"y":0.075,"v":3.5},{"x":0.464,"y":0.125,"v":3.5},{"x":0.464,"y":0.175,"v":3.5},{"x":0.464,"y":0.225,"v":3.5},{"x":0.464,"y":0.275,"v":3.5},{"x":0.464,"y":0.325,"v":4.5},{"x":0.464,"y":0.375,"v":4.5},{"x":0.464,"y":0.425,"v":4.5},{"x":0.464,"y":0.475,"v":4.5},{"x":0.464,"y":0.525,"v":4},{"x":0.464,"y":0.575,"v":3.5},{"x":0.464,"y":0.625,"v":2.5},{"x":0.464,"y":0.675,"v":1.5},
{"x":0.556,"y":0.075,"v":4},{"x":0.556,"y":0.125,"v":4},{"x":0.556,"y":0.175,"v":4},{"x":0.556,"y":0.225,"v":4},{"x":0.556,"y":0.275,"v":4},{"x":0.556,"y":0.325,"v":4},{"x":0.556,"y":0.375,"v":4},{"x":0.556,"y":0.425,"v":4},{"x":0.556,"y":0.475,"v":4},{"x":0.556,"y":0.525,"v":4},{"x":0.556,"y":0.575,"v":4},{"x":0.556,"y":0.625,"v":7},{"x":0.556,"y":0.675,"v":3.5},{"x":0.556,"y":0.725,"v":2},{"x":0.556,"y":0.775,"v":1.5},
{"x":0.649,"y":0.075,"v":4},{"x":0.649,"y":0.125,"v":4},{"x":0.649,"y":0.175,"v":4},{"x":0.649,"y":0.225,"v":4},{"x":0.649,"y":0.275,"v":4},{"x":0.649,"y":0.325,"v":4},{"x":0.649,"y":0.375,"v":6},{"x":0.649,"y":0.425,"v":6},{"x":0.649,"y":0.475,"v":6},{"x":0.649,"y":0.525,"v":3},{"x":0.649,"y":0.575,"v":2.5},{"x":0.649,"y":0.625,"v":2.5},{"x":0.649,"y":0.675,"v":1.5},{"x":0.649,"y":0.725,"v":1.5},{"x":0.649,"y":0.775,"v":1.5},
{"x":0.742,"y":0.075,"v":4.5},{"x":0.742,"y":0.125,"v":4.5},{"x":0.742,"y":0.175,"v":4.5},{"x":0.742,"y":0.225,"v":4.5},{"x":0.742,"y":0.275,"v":4.5},{"x":0.742,"y":0.325,"v":4.5},{"x":0.742,"y":0.375,"v":7},{"x":0.742,"y":0.425,"v":9},{"x":0.742,"y":0.475,"v":10},{"x":0.742,"y":0.525,"v":11},{"x":0.742,"y":0.575,"v":10},{"x":0.742,"y":0.625,"v":9},{"x":0.742,"y":0.675,"v":12},{"x":0.742,"y":0.725,"v":3},{"x":0.742,"y":0.775,"v":2},{"x":0.742,"y":0.825,"v":1.5},
{"x":0.834,"y":0.075,"v":4},{"x":0.834,"y":0.125,"v":4},{"x":0.834,"y":0.175,"v":4},{"x":0.834,"y":0.225,"v":4},{"x":0.834,"y":0.275,"v":4},{"x":0.834,"y":0.325,"v":4},{"x":0.834,"y":0.375,"v":7},{"x":0.834,"y":0.425,"v":7},{"x":0.834,"y":0.475,"v":7},{"x":0.834,"y":0.525,"v":7},{"x":0.834,"y":0.575,"v":7},{"x":0.834,"y":0.625,"v":4},{"x":0.834,"y":0.675,"v":6},{"x":0.834,"y":0.725,"v":2.5},{"x":0.834,"y":0.775,"v":1.5},
{"x":0.927,"y":0.075,"v":3.5},{"x":0.927,"y":0.125,"v":3.5},{"x":0.927,"y":0.175,"v":3.5},{"x":0.927,"y":0.225,"v":3.5},{"x":0.927,"y":0.275,"v":3.5},{"x":0.927,"y":0.325,"v":3.5},{"x":0.927,"y":0.375,"v":3.5},{"x":0.927,"y":0.425,"v":3.5},{"x":0.927,"y":0.475,"v":3.5},{"x":0.927,"y":0.525,"v":3.5},{"x":0.927,"y":0.575,"v":5},{"x":0.927,"y":0.625,"v":5},{"x":0.927,"y":0.675,"v":13},{"x":0.927,"y":0.725,"v":3.5},{"x":0.927,"y":0.775,"v":2},{"x":0.927,"y":0.825,"v":1.5},
{"x":1.02,"y":0.075,"v":2},{"x":1.02,"y":0.125,"v":2},{"x":1.02,"y":0.175,"v":2},{"x":1.02,"y":0.225,"v":2},{"x":1.02,"y":0.275,"v":2},{"x":1.02,"y":0.325,"v":2},{"x":1.02,"y":0.375,"v":2},{"x":1.02,"y":0.425,"v":2},{"x":1.02,"y":0.475,"v":2},{"x":1.02,"y":0.525,"v":2},{"x":1.02,"y":0.575,"v":2},{"x":1.02,"y":0.625,"v":2},{"x":1.02,"y":0.675,"v":2},{"x":1.02,"y":0.725,"v":2},{"x":1.02,"y":0.775,"v":2},{"x":1.02,"y":0.825,"v":1.8},{"x":1.02,"y":0.875,"v":1.5},{"x":1.02,"y":0.925,"v":1.5},
{"x":1.112,"y":0.075,"v":3},{"x":1.112,"y":0.125,"v":3},{"x":1.112,"y":0.175,"v":5},{"x":1.112,"y":0.575,"v":1.5},{"x":1.112,"y":0.625,"v":1.5},{"x":1.112,"y":0.675,"v":1.5},
{"x":1.205,"y":0.075,"v":2.5},{"x":1.205,"y":0.125,"v":2.5},{"x":1.205,"y":0.525,"v":1.2},{"x":1.205,"y":0.575,"v":1.2},{"x":1.205,"y":0.625,"v":2},{"x":1.205,"y":0.675,"v":2},{"x":1.205,"y":0.725,"v":2},
{"x":1.298,"y":0.075,"v":2},{"x":1.298,"y":0.125,"v":2},{"x":1.298,"y":0.175,"v":2},{"x":1.298,"y":0.225,"v":2},{"x":1.298,"y":0.275,"v":2},{"x":1.298,"y":0.525,"v":1.5},{"x":1.298,"y":0.575,"v":3},{"x":1.298,"y":0.625,"v":3},{"x":1.298,"y":0.675,"v":2},{"x":1.298,"y":0.725,"v":2},
{"x":1.391,"y":0.075,"v":1.5},{"x":1.391,"y":0.125,"v":1.5},{"x":1.391,"y":0.525,"v":1.2},{"x":1.391,"y":0.575,"v":1.2},{"x":1.391,"y":0.625,"v":1.2},{"x":1.391,"y":0.675,"v":1.2},{"x":1.391,"y":0.725,"v":1},
{"x":1.483,"y":0.075,"v":1.5},{"x":1.483,"y":0.175,"v":0.2},{"x":1.483,"y":0.225,"v":0.2},{"x":1.483,"y":0.275,"v":0.2},{"x":1.483,"y":0.325,"v":0.2},{"x":1.483,"y":0.375,"v":0.2},{"x":1.483,"y":0.425,"v":0.2},{"x":1.483,"y":0.475,"v":0.2},{"x":1.483,"y":0.525,"v":0.2},{"x":1.483,"y":0.575,"v":0.2},{"x":1.483,"y":0.625,"v":0.2},{"x":1.483,"y":0.675,"v":0.2},{"x":1.483,"y":0.725,"v":0.2},{"x":1.483,"y":0.775,"v":3},{"x":1.483,"y":0.825,"v":8},
{"x":1.576,"y":0.075,"v":2},{"x":1.576,"y":0.125,"v":2},{"x":1.576,"y":0.175,"v":2},{"x":1.576,"y":0.225,"v":2},{"x":1.576,"y":0.275,"v":2},{"x":1.576,"y":0.575,"v":1.5},{"x":1.576,"y":0.625,"v":2.5},{"x":1.576,"y":0.675,"v":3.5},{"x":1.576,"y":0.725,"v":2},
{"x":1.669,"y":0.075,"v":2},{"x":1.669,"y":0.125,"v":2},{"x":1.669,"y":0.175,"v":2},{"x":1.669,"y":0.225,"v":2},{"x":1.669,"y":0.275,"v":2},{"x":1.669,"y":0.325,"v":2},{"x":1.669,"y":0.525,"v":1.5},{"x":1.669,"y":0.575,"v":3},{"x":1.669,"y":0.625,"v":3},{"x":1.669,"y":0.675,"v":2},
{"x":1.761,"y":0.075,"v":2},{"x":1.761,"y":0.125,"v":2},{"x":1.761,"y":0.175,"v":2},{"x":1.761,"y":0.575,"v":1.5},{"x":1.761,"y":0.625,"v":2},{"x":1.761,"y":0.675,"v":2.5},{"x":1.761,"y":0.725,"v":2.5},
{"x":1.854,"y":0.075,"v":3},{"x":1.854,"y":0.125,"v":3},{"x":1.854,"y":0.175,"v":3},{"x":1.854,"y":0.225,"v":3},{"x":1.854,"y":0.275,"v":3},{"x":1.854,"y":0.325,"v":2.5},{"x":1.854,"y":0.375,"v":2.5},{"x":1.854,"y":0.425,"v":2.5},{"x":1.854,"y":0.475,"v":1.2},{"x":1.854,"y":0.525,"v":1.2},{"x":1.854,"y":0.575,"v":1.2},
{"x":1.947,"y":0.075,"v":4},{"x":1.947,"y":0.125,"v":4},{"x":1.947,"y":0.175,"v":4},{"x":1.947,"y":0.225,"v":4},{"x":1.947,"y":0.275,"v":4},{"x":1.947,"y":0.325,"v":4},{"x":1.947,"y":0.375,"v":8},{"x":1.947,"y":0.425,"v":10},{"x":1.947,"y":0.475,"v":4.5},{"x":1.947,"y":0.525,"v":2}
],
"gA": [{"x":0.046,"y":0.1},{"x":0.139,"y":0.3},{"x":0.232,"y":0.5},{"x":0.324,"y":0.6},{"x":0.417,"y":0.55},{"x":0.51,"y":0.55},{"x":0.603,"y":0.55},{"x":0.695,"y":0.95},{"x":0.788,"y":0.7},{"x":0.881,"y":0.85},{"x":0.973,"y":0.7},{"x":1.066,"y":0.45},{"x":1.159,"y":0.25},{"x":1.252,"y":0.3},{"x":1.344,"y":0.15},{"x":1.437,"y":0.15},{"x":1.53,"y":0.3},{"x":1.622,"y":0.35},{"x":1.715,"y":0.25},{"x":1.808,"y":0.35},{"x":1.9,"y":0.6},{"x":1.993,"y":0.95},{"x":2.2,"y":0.95}],
"gB": [{"x":0.046,"y":0.1},{"x":0.139,"y":0.3},{"x":0.232,"y":0.5},{"x":0.324,"y":0.6},{"x":0.417,"y":0.5},{"x":0.51,"y":0.55},{"x":0.603,"y":0.5},{"x":0.695,"y":0.75},{"x":0.788,"y":0.6},{"x":0.881,"y":0.8},{"x":0.973,"y":0.7},{"x":1.066,"y":0.35},{"x":1.159,"y":0.2},{"x":1.252,"y":0.3},{"x":1.344,"y":0.3},{"x":1.437,"y":0.15},{"x":1.53,"y":0.1},{"x":1.622,"y":0.3},{"x":1.715,"y":0.35},{"x":1.808,"y":0.2},{"x":1.9,"y":0.4},{"x":1.993,"y":0.95},{"x":2.2,"y":0.95}],
"gC": [{"x":0.046,"y":0.1},{"x":0.139,"y":0.3},{"x":0.232,"y":0.5},{"x":0.324,"y":0.6},{"x":0.417,"y":0.5},{"x":0.51,"y":0.55},{"x":0.603,"y":0.5},{"x":0.695,"y":0.65},{"x":0.788,"y":0.6},{"x":0.881,"y":0.7},{"x":0.973,"y":0.7},{"x":1.066,"y":0.15},{"x":1.159,"y":0.15},{"x":1.252,"y":0.3},{"x":1.344,"y":0.15},{"x":1.437,"y":0.1},{"x":1.53,"y":0.3},{"x":1.622,"y":0.35},{"x":1.715,"y":0.2},{"x":1.808,"y":0.3},{"x":1.9,"y":0.4},{"x":1.993,"y":1.0},{"x":2.2,"y":1.0}],
"gD": [{"x":0.046,"y":0.1},{"x":0.139,"y":0.3},{"x":0.232,"y":0.5},{"x":0.324,"y":0.6},{"x":0.417,"y":0.5},{"x":0.51,"y":0.55},{"x":0.603,"y":0.5},{"x":0.695,"y":0.65},{"x":0.788,"y":0.6},{"x":0.881,"y":0.65},{"x":0.973,"y":0.7},{"x":1.066,"y":0.15},{"x":1.159,"y":0.15},{"x":1.252,"y":0.3},{"x":1.344,"y":0.15},{"x":1.437,"y":0.1},{"x":1.53,"y":0.3},{"x":1.622,"y":0.35},{"x":1.715,"y":0.2},{"x":1.808,"y":0.3},{"x":1.9,"y":0.4},{"x":1.993,"y":1.0},{"x":2.2,"y":1.0}],
"pA": [{"s":1,"x":0.046,"y":1.0,"y2":1.2},{"s":1,"x":0.139,"y":0.75,"y2":1.2},{"s":1,"x":0.232,"y":0.6,"y2":1.2},{"s":1,"x":0.324,"y":0.65,"y2":1.2},{"s":1,"x":0.417,"y":0.5,"y2":1.2},{"s":1,"x":0.51,"y":0.55,"y2":1.2},{"s":1,"x":0.603,"y":0.5,"y2":1.2},{"s":1,"x":0.695,"y":0.65,"y2":1.2},{"s":1,"x":0.788,"y":0.5,"y2":1.2},{"s":1,"x":0.881,"y":0.65,"y2":1.2},{"s":1,"x":0.973,"y":1.0,"y2":1.2},{"s":1,"x":1.066,"y":0.25,"y2":1.2},{"s":1,"x":1.159,"y":0.15,"y2":1.2},{"s":1,"x":1.252,"y":0.55,"y2":1.2},{"s":1,"x":1.344,"y":0.55,"y2":1.2},{"s":1,"x":1.437,"y":0.0,"y2":1.2},{"s":1,"x":1.53,"y":0.6,"y2":1.2},{"s":1,"x":1.622,"y":0.55,"y2":1.2},{"s":1,"x":1.715,"y":0.25,"y2":1.2},{"s":1,"x":1.808,"y":0.2,"y2":1.2},{"s":1,"x":1.9,"y":0.3,"y2":1.2},{"s":1,"x":1.993,"y":0.75,"y2":1.2},{"s":1,"x":2.2,"y":0.75,"y2":1.2}],
"pB": [{"s":1,"x":0.139,"y":0.65,"y2":0.95},{"s":1,"x":0.232,"y":0.65,"y2":0.85},{"s":1,"x":0.324,"y":0.65,"y2":0.85},
{"s":2,"x":0.417,"y":0.55,"y2":0.95},{"s":2,"x":0.51,"y":0.6,"y2":1.2},{"s":2,"x":0.603,"y":0.7,"y2":0.8},{"s":2,"x":0.695,"y":0.6,"y2":1.2},{"s":2,"x":0.788,"y":0.65,"y2":0.85},{"s":2,"x":0.881,"y":0.6,"y2":1.0},{"s":2,"x":0.973,"y":0.6,"y2":1.0},
{"s":3,"x":1.066,"y":0.2,"y2":1.2},{"s":3,"x":1.159,"y":0.3,"y2":1.2},{"s":3,"x":1.252,"y":0.9,"y2":1.2},{"s":3,"x":1.344,"y":0.9,"y2":1.2},
{"s":4,"x":1.437,"y":0.75,"y2":1.2},{"s":4,"x":1.53,"y":0.7,"y2":0.9},{"s":4,"x":1.622,"y":0.6,"y2":0.9},{"s":4,"x":1.715,"y":0.55,"y2":0.9},{"s":4,"x":1.808,"y":0.65,"y2":0.85},{"s":4,"x":1.9,"y":0.4,"y2":1.2},{"s":4,"x":1.993,"y":1.0,"y2":1.2},{"s":4,"x":2.2,"y":1.0,"y2":1.2}],
"pC": [{"s":1,"x":0.139,"y":0.65,"y2":0.85},{"s":1,"x":0.232,"y":0.65,"y2":0.85},
{"s":2,"x":0.51,"y":0.7,"y2":0.8},{"s":2,"x":0.603,"y":0.7,"y2":0.8},
{"s":3,"x":0.695,"y":0.65,"y2":0.85},{"s":3,"x":0.788,"y":0.65,"y2":0.85},
{"s":4,"x":0.881,"y":0.65,"y2":0.9},{"s":4,"x":0.973,"y":0.65,"y2":0.9},
{"s":5,"x":1.066,"y":0.2,"y2":1.0},{"s":5,"x":1.159,"y":0.6,"y2":0.9},{"s":5,"x":1.252,"y":0.65,"y2":0.8},{"s":5,"x":1.344,"y":0.65,"y2":0.8},
{"s":6,"x":1.437,"y":0.75,"y2":1.2},{"s":6,"x":1.53,"y":0.75,"y2":1.2},
{"s":7,"x":1.622,"y":0.7,"y2":0.75},{"s":7,"x":1.715,"y":0.7,"y2":0.75},
{"s":8,"x":1.9,"y":0.85,"y2":0.9},{"s":8,"x":1.993,"y":0.85,"y2":0.9},
{"s":9,"x":1.9,"y":0.5,"y2":0.6},{"s":9,"x":1.993,"y":0.5,"y2":0.6},
{"s":10,"x":1.993,"y":1.0,"y2":1.2},{"s":10,"x":2.2,"y":1.0,"y2":1.2}],
"pts": [{"x":0.093,"y":0.225,"t":"i","k":"o"},{"x":0.093,"y":0.725,"t":"ii","k":"o"},{"x":0.278,"y":0.675,"t":"iii","k":"r"},{"x":0.556,"y":0.625,"t":"iv","k":"r"},{"x":0.742,"y":0.675,"t":"v","k":"r"},{"x":0.927,"y":0.675,"t":"vi","k":"r"},{"x":1.112,"y":0.175,"t":"vii","k":"r"},{"x":1.483,"y":0.825,"t":"viii","k":"r"},{"x":1.947,"y":0.425,"t":"ix","k":"r"}]
},
"concat": [
 {"width": 214, "height": 181, "title": "k = 100 atoms",
  "view": {"fill": "#e2edf8", "stroke": "black", "strokeWidth": 1.2},
  "encoding": {
   "x": {"field": "x", "type": "quantitative", "scale": {"domain": [0, 2.086], "nice": false, "zero": false}, "axis": {"values": [0, 0.5, 1, 1.5, 2], "labels": false, "title": null}},
   "y": {"field": "y", "type": "quantitative", "scale": {"domain": [0.06, 1.04], "nice": false, "zero": false}, "axis": {"values": [0.2, 0.4, 0.6, 0.8, 1.0], "format": ".1f", "title": "cₑ"}}
  },
  "layer": [
   {"data": {"name": "hA"}, "mark": {"type": "point", "shape": "M-1,-0.98H1V0.98H-1Z", "size": 98, "filled": true, "opacity": 1, "strokeWidth": 0, "clip": true},
    "encoding": {"color": {"field": "v", "type": "quantitative", "scale": {"scheme": "blues", "domain": [0, 4.6]}, "legend": {"values": [0, 1, 2, 3, 4], "title": null}}}},
   {"data": {"name": "gA"}, "mark": {"type": "area", "interpolate": "step-after", "fill": "#64820a", "fillOpacity": 0.43, "stroke": "#228b22", "strokeWidth": 1.6, "clip": true}, "encoding": {"y2": {"datum": 0}}},
   {"data": {"name": "pA"}, "mark": {"type": "area", "interpolate": "step-after", "fill": "purple", "fillOpacity": 0.14, "stroke": "#822896", "strokeWidth": 1.6, "clip": true}, "encoding": {"y2": {"field": "y2"}, "detail": {"field": "s"}}},
   {"data": {"values": [{}]}, "mark": {"type": "text", "font": "DejaVu Serif", "fontSize": 13, "align": "left", "baseline": "middle", "color": "#222"}, "encoding": {"x": {"datum": 1.105}, "y": {"datum": 0.89}, "text": {"value": "Tr(ρ²) < 0.99"}}},
   {"data": {"values": [{}]}, "mark": {"type": "text", "font": "DejaVu Serif", "fontSize": 20, "align": "left", "baseline": "middle", "color": "#222"}, "encoding": {"x": {"datum": 0.24}, "y": {"datum": 0.185}, "text": {"value": "⟨n⟩ < 1"}}},
   {"data": {"values": [{}]}, "mark": {"type": "text", "font": "DejaVu Sans", "fontSize": 17, "align": "right", "baseline": "middle", "color": "black"}, "encoding": {"x": {"datum": 2.065}, "y": {"datum": 0.125}, "text": {"value": "(a)"}}}
  ]},
 {"width": 214, "height": 181, "title": "k = 10³ atoms",
  "view": {"fill": "#f0f6fd", "stroke": "black", "strokeWidth": 1.2},
  "encoding": {
   "x": {"field": "x", "type": "quantitative", "scale": {"domain": [0, 2.086], "nice": false, "zero": false}, "axis": {"values": [0, 0.5, 1, 1.5, 2], "labels": false, "title": null}},
   "y": {"field": "y", "type": "quantitative", "scale": {"domain": [0.06, 1.04], "nice": false, "zero": false}, "axis": {"values": [0.2, 0.4, 0.6, 0.8, 1.0], "labels": false, "title": null}}
  },
  "layer": [
   {"data": {"name": "hB"}, "mark": {"type": "point", "shape": "M-1,-0.98H1V0.98H-1Z", "size": 98, "filled": true, "opacity": 1, "strokeWidth": 0, "clip": true},
    "encoding": {"color": {"field": "v", "type": "quantitative", "scale": {"scheme": "blues", "domain": [0, 9.1]}, "legend": {"values": [0, 2, 4, 6, 8], "title": "FQ(ρ)/4⟨n⟩"}}}},
   {"data": {"name": "gB"}, "mark": {"type": "area", "interpolate": "step-after", "fill": "#64820a", "fillOpacity": 0.43, "stroke": "#228b22", "strokeWidth": 1.6, "clip": true}, "encoding": {"y2": {"datum": 0}}},
   {"data": {"name": "pB"}, "mark": {"type": "area", "interpolate": "step-after", "fill": "purple", "fillOpacity": 0.14, "stroke": "#822896", "strokeWidth": 1.6, "clip": true}, "encoding": {"y2": {"field": "y2"}, "detail": {"field": "s"}}},
   {"data": {"values": [{}]}, "mark": {"type": "text", "font": "DejaVu Sans", "fontSize": 17, "align": "right", "baseline": "middle", "color": "black"}, "encoding": {"x": {"datum": 2.065}, "y": {"datum": 0.125}, "text": {"value": "(b)"}}}
  ]},
 {"width": 214, "height": 181, "title": "k = 10⁴ atoms",
  "view": {"fill": "#f0f6fd", "stroke": "black", "strokeWidth": 1.2},
  "encoding": {
   "x": {"field": "x", "type": "quantitative", "scale": {"domain": [0, 2.086], "nice": false, "zero": false}, "axis": {"values": [0, 0.5, 1, 1.5, 2], "format": ".1f", "title": "φ/π"}},
   "y": {"field": "y", "type": "quantitative", "scale": {"domain": [0.06, 1.04], "nice": false, "zero": false}, "axis": {"values": [0.2, 0.4, 0.6, 0.8, 1.0], "format": ".1f", "title": "cₑ"}}
  },
  "layer": [
   {"data": {"name": "hC"}, "mark": {"type": "point", "shape": "M-1,-0.98H1V0.98H-1Z", "size": 98, "filled": true, "opacity": 1, "strokeWidth": 0, "clip": true},
    "encoding": {"color": {"field": "v", "type": "quantitative", "scale": {"scheme": "blues", "domain": [0, 12.8]}, "legend": {"values": [0, 4, 8, 12], "title": null}}}},
   {"data": {"name": "gC"}, "mark": {"type": "area", "interpolate": "step-after", "fill": "#64820a", "fillOpacity": 0.43, "stroke": "#228b22", "strokeWidth": 1.6, "clip": true}, "encoding": {"y2": {"datum": 0}}},
   {"data": {"name": "pC"}, "mark": {"type": "area", "interpolate": "step-after", "fill": "purple", "fillOpacity": 0.14, "stroke": "#822896", "strokeWidth": 1.6, "clip": true}, "encoding": {"y2": {"field": "y2"}, "detail": {"field": "s"}}},
   {"data": {"values": [{}]}, "mark": {"type": "text", "font": "DejaVu Sans", "fontSize": 17, "align": "right", "baseline": "middle", "color": "black"}, "encoding": {"x": {"datum": 2.065}, "y": {"datum": 0.125}, "text": {"value": "(c)"}}}
  ]},
 {"width": 214, "height": 181, "title": "steady state",
  "view": {"fill": "#f0f6fd", "stroke": "black", "strokeWidth": 1.2},
  "encoding": {
   "x": {"field": "x", "type": "quantitative", "scale": {"domain": [0, 2.086], "nice": false, "zero": false}, "axis": {"values": [0, 0.5, 1, 1.5, 2], "format": ".1f", "title": "φ/π"}},
   "y": {"field": "y", "type": "quantitative", "scale": {"domain": [0.06, 1.04], "nice": false, "zero": false}, "axis": {"values": [0.2, 0.4, 0.6, 0.8, 1.0], "labels": false, "title": null}}
  },
  "layer": [
   {"data": {"name": "hD"}, "mark": {"type": "point", "shape": "M-1,-0.98H1V0.98H-1Z", "size": 98, "filled": true, "opacity": 1, "strokeWidth": 0, "clip": true},
    "encoding": {"color": {"field": "v", "type": "quantitative", "scale": {"scheme": "blues", "domain": [0, 12.8]}, "legend": {"values": [0, 4, 8, 12], "title": "FQ(ρ)/4⟨n⟩"}}}},
   {"data": {"name": "gD"}, "mark": {"type": "area", "interpolate": "step-after", "fill": "#64820a", "fillOpacity": 0.43, "stroke": "#228b22", "strokeWidth": 1.6, "clip": true}, "encoding": {"y2": {"datum": 0}}},
   {"data": {"values": [{}]}, "mark": {"type": "rule", "color": "#ee1111", "strokeWidth": 2, "strokeDash": [7, 4]}, "encoding": {"x": {"datum": 0}, "x2": {"datum": 2.086}, "y": {"datum": 0.675}}},
   {"data": {"name": "pts"}, "transform": [{"filter": "datum.k == 'o'"}], "mark": {"type": "circle", "size": 32, "color": "#f5821f", "opacity": 1}},
   {"data": {"name": "pts"}, "transform": [{"filter": "datum.k == 'r'"}], "mark": {"type": "circle", "size": 32, "color": "#ee1111", "opacity": 1}},
   {"data": {"name": "pts"}, "transform": [{"filter": "datum.t != 'vii' && datum.t != 'ix'"}], "mark": {"type": "text", "font": "DejaVu Sans", "fontSize": 15, "align": "center", "baseline": "middle", "dx": 3, "dy": -12, "color": "black"}, "encoding": {"text": {"field": "t"}}},
   {"data": {"name": "pts"}, "transform": [{"filter": "datum.t == 'vii' || datum.t == 'ix'"}], "mark": {"type": "text", "font": "DejaVu Sans", "fontSize": 15, "align": "right", "baseline": "middle", "dx": 1, "dy": -12, "color": "black"}, "encoding": {"text": {"field": "t"}}},
   {"data": {"values": [{}]}, "mark": {"type": "text", "font": "DejaVu Sans", "fontSize": 17, "align": "right", "baseline": "middle", "color": "black"}, "encoding": {"x": {"datum": 2.065}, "y": {"datum": 0.125}, "text": {"value": "(d)"}}}
  ]}
],
"columns": 2,
"spacing": {"row": 70, "column": 71},
"bounds": "flush",
"resolve": {"scale": {"color": "independent", "x": "independent", "y": "independent"}}
}
